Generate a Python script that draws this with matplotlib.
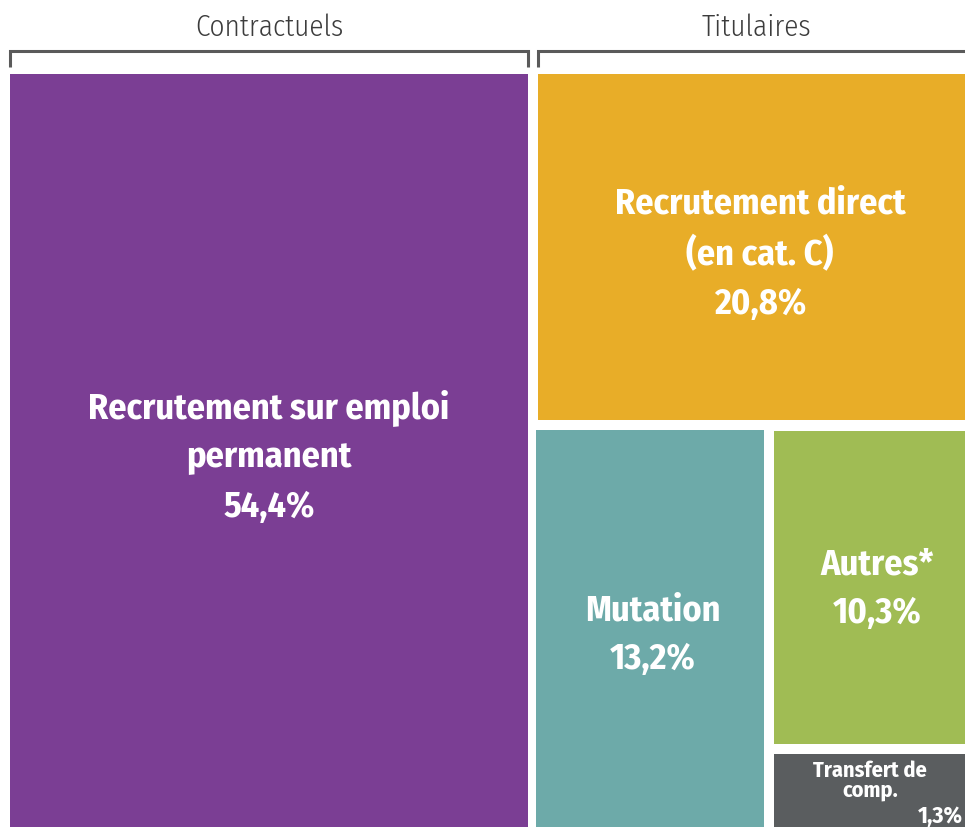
import matplotlib
matplotlib.use("Agg")
import matplotlib.pyplot as plt
from matplotlib.patches import Rectangle

# data
groups = ["Contractuels", "Titulaires"]
labels = ["Recrutement sur emploi\npermanent", "Recrutement direct\n(en cat. C)",
          "Mutation", "Autres*", "Transfert de\ncomp."]
values = [54.4, 20.8, 13.2, 10.3, 1.3]
pct_text = ["54,4%", "20,8%", "13,2%", "10,3%", "1,3%"]
group_of = [0, 1, 1, 1, 1]
colors = ["#7B3E94", "#E8AD28", "#6DAAA9", "#A0BC54", "#5A5D5F"]

BOLD = ["Fira Sans Condensed", "DejaVu Sans"]
LIGHT = ["Fira Sans Condensed", "DejaVu Sans"]

W, H = 965, 828
fig = plt.figure(figsize=(W / 100, H / 100), dpi=100)
ax = fig.add_axes([0, 0, 1, 1])
ax.set_xlim(0, W)
ax.set_ylim(H, 0)
ax.axis("off")

# treemap area in pixel units (runs a bit past the bottom edge), gap between cells
X0, X1, Y0, Y1 = 10, 972, 75, 845
GAP = 10
MIN_FRAC = 0.23   # keep the tiny cell readable


def box(x0, y0, x1, y1):
    return [x0, y0, x1, y1]


total = sum(values)
tot_g = [sum(v for v, g in zip(values, group_of) if g == k) for k in range(len(groups))]

# slice the two groups horizontally
gx = []
x = X0
for t in tot_g:
    w = (X1 - X0) * t / total
    gx.append((x, x + w))
    x += w

rects = [None] * len(values)
c0, c1 = gx[0]
rects[0] = box(c0, Y0, c1 - GAP / 2, Y1)

t0, t1 = gx[1][0] + GAP / 2, gx[1][1]
# top cell of titulaires
h_top = (Y1 - Y0) * values[1] / tot_g[1]
rects[1] = box(t0, Y0, t1, Y0 + h_top - GAP / 2)
# bottom row: Mutation | (Autres / Transfert)
rest = values[2] + values[3] + values[4]
by0 = Y0 + h_top + GAP / 2
w_mut = (t1 - t0) * values[2] / rest
rects[2] = box(t0 - 2, by0, t0 + w_mut - GAP / 2, Y1)
frac_small = max(values[4] / (values[3] + values[4]), MIN_FRAC)
h_aut = (Y1 - by0) * (1 - frac_small)
rects[3] = box(t0 + w_mut + GAP / 2, by0 + 1, t1, by0 + h_aut - GAP / 2)
rects[4] = box(t0 + w_mut + GAP / 2, by0 + h_aut + GAP / 2, t1, Y1)

for r, c in zip(rects, colors):
    ax.add_patch(Rectangle((r[0], r[1]), r[2] - r[0], r[3] - r[1],
                           facecolor=c, edgecolor="none"))

# labels
centers = [(269, 457), (760, 254), (653, 635), (877, 589)]
for i in range(4):
    ax.text(centers[i][0], centers[i][1], labels[i] + "\n" + pct_text[i], color="white",
            fontsize=26, fontweight="bold", family=BOLD, ha="center", va="center",
            linespacing=1.5)

ax.text(870, 781, labels[4], color="white", fontsize=16,
        fontweight="bold", family=BOLD, ha="center", va="center", linespacing=0.9)
ax.text(963, 823, pct_text[4], color="white", fontsize=17,
        fontweight="bold", family=BOLD, ha="right", va="baseline")

# group brackets and headers
for k, (a, b) in enumerate(gx):
    if k == 0:
        a0, b0 = a, b - GAP / 2
    else:
        a0, b0 = a + GAP / 2, b
    ax.plot([a0, a0, b0, b0], [68, 52, 52, 68], color="#5a5a5a", lw=2.2,
            solid_joinstyle="miter", solid_capstyle="butt")
    cx = (a0 + min(b0, W)) / 2 + (5 if k == 1 else 0)
    ax.text(cx, 28, groups[k], color="#3c3c3c", fontsize=21, fontweight=300,
            family=LIGHT, ha="center", va="center")

fig.savefig("out.png", dpi=100)
